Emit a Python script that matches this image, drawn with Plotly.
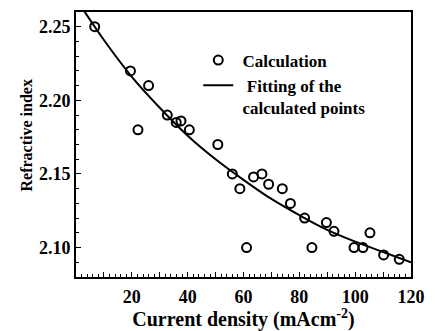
import plotly.graph_objects as go

# Calculated points (current density in mA/cm^2, refractive index)
calc_density = [6.7, 19.5, 22.2, 26.0, 32.7, 35.9, 37.6, 40.6, 50.8, 56.0, 58.7, 61.1,
                63.6, 66.6, 69.0, 73.9, 76.8, 81.9, 84.5, 89.7, 92.4, 99.6, 102.8,
                105.3, 110.2, 115.8]
calc_index = [2.250, 2.220, 2.180, 2.210, 2.190, 2.185, 2.186, 2.180, 2.170, 2.150,
              2.140, 2.100, 2.148, 2.150, 2.143, 2.140, 2.130, 2.120, 2.100, 2.117,
              2.111, 2.100, 2.100, 2.110, 2.095, 2.092]

# Fitting curve
fit_density = [0, 10, 20, 30, 40, 50, 60, 70, 80, 90, 100, 110, 120]
fit_index = [2.269, 2.241, 2.216, 2.195, 2.176, 2.160, 2.146, 2.133, 2.122,
             2.112, 2.104, 2.097, 2.090]

x_tickvals = [0, 10, 20, 30, 40, 50, 60, 70, 80, 90, 100, 110, 120]
x_ticktext = ["", "", "20", "", "40", "", "60", "", "80", "", "100", "", "120"]
y_tickvals = [2.10, 2.15, 2.20, 2.25]
y_ticktext = ["2.10", "2.15", "2.20", "2.25"]

FONT = "Times New Roman, Liberation Serif, serif"
TICK_SZ = 18
LEG_SZ = 17

fig = go.Figure()
fig.add_trace(go.Scatter(
    x=calc_density, y=calc_index, mode="markers", name="\u00a0Calculation",
    marker=dict(symbol="circle-open", size=9, color="black", line=dict(width=2, color="black")),
))
fig.add_trace(go.Scatter(
    x=fit_density, y=fit_index, mode="lines",
    name="\u00a0\u00a0Fitting of the<br>\u00a0calculated points",
    line=dict(color="black", width=2, shape="spline"),
))

fig.update_layout(
    width=435, height=331,
    margin=dict(l=76, r=17, t=10, b=52),
    plot_bgcolor="white", paper_bgcolor="white",
    font=dict(family=FONT, size=TICK_SZ, color="black", weight="bold"),
    showlegend=True,
    legend=dict(
        x=0.365, y=0.885, xanchor="left", yanchor="top",
        bgcolor="rgba(0,0,0,0)", borderwidth=0,
        font=dict(family=FONT, size=LEG_SZ, color="black", weight="bold"),
        valign="top", tracegroupgap=0,
    ),
    annotations=[dict(
        text="Refractive index", textangle=-90, showarrow=False,
        xref="paper", yref="paper", x=0, y=0.5, xshift=-50, yshift=9,
        xanchor="center", yanchor="middle",
        font=dict(family=FONT, size=16, color="black", weight="bold"),
    )],
)

fig.update_xaxes(
    range=[0, 120], showgrid=False, zeroline=False,
    showline=True, linecolor="black", linewidth=2, mirror=True,
    ticks="inside", ticklen=5, tickwidth=1, tickcolor="black",
    tickmode="array", tickvals=x_tickvals, ticktext=x_ticktext,
    ticklabelstandoff=2,
    minor=dict(ticks="inside", dtick=2, ticklen=3, tickcolor="black", tickwidth=1),
    tickfont=dict(family=FONT, size=TICK_SZ, color="black", weight="bold"),
    title=dict(text="Current density (mAcm<sup>-2</sup>)",
               font=dict(family=FONT, size=20, color="black", weight="bold"), standoff=0),
)
fig.update_yaxes(
    range=[2.08, 2.26], showgrid=False, zeroline=False,
    showline=True, linecolor="black", linewidth=2, mirror=True,
    ticks="inside", ticklen=5, tickwidth=1, tickcolor="black",
    tickmode="array", tickvals=y_tickvals, ticktext=y_ticktext,
    minor=dict(ticks="inside", dtick=0.01, ticklen=3, tickcolor="black", tickwidth=1),
    tickfont=dict(family=FONT, size=TICK_SZ, color="black", weight="bold"),
)

fig.write_html("out.html", config={"displayModeBar": False},
               post_script="document.body.style.margin='0';")
